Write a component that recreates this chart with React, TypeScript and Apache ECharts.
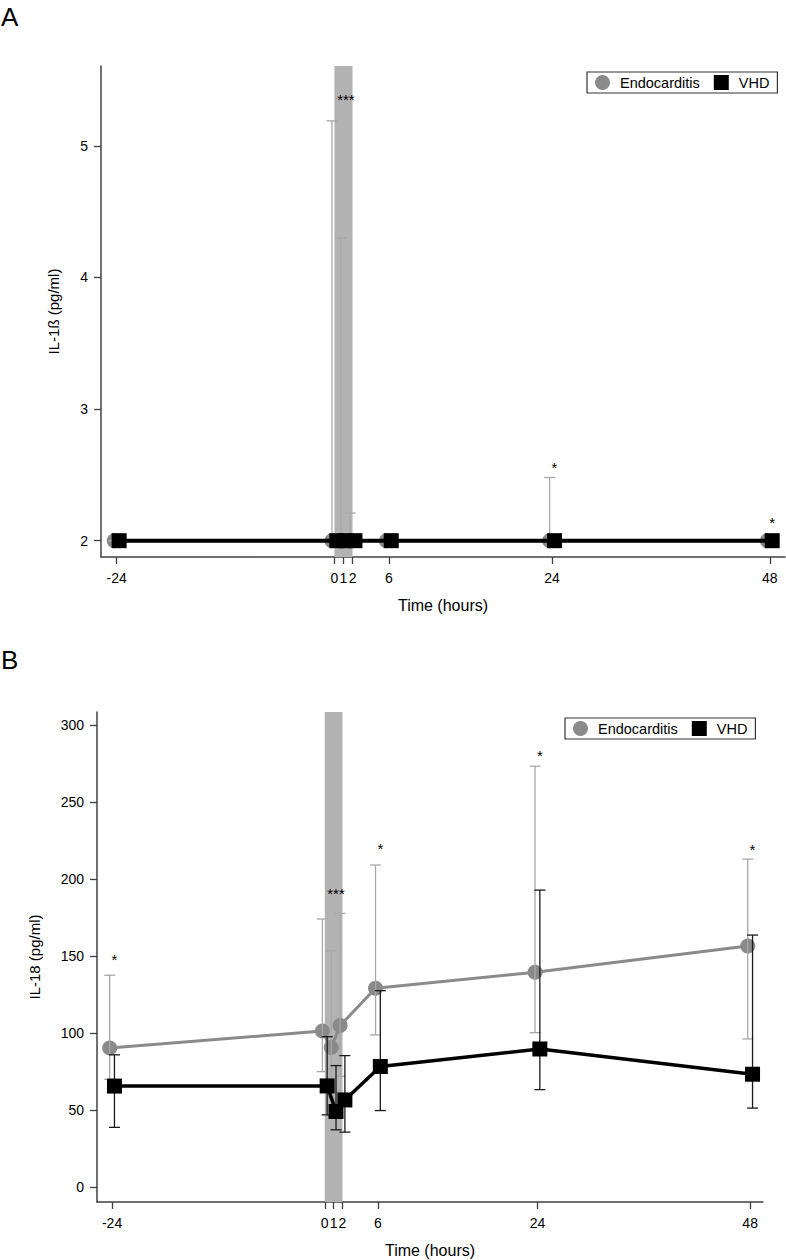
import React, { useEffect, useRef } from "react";
import * as echarts from "echarts";

// ---------- data ----------
const TIMES = [-24, 0, 1, 2, 6, 24, 48];
const X_TICKS = [-24, 0, 1, 2, 6, 24, 48];
const BAND = [0, 2];

// Panel A: IL-1ß
const A_ENDO_MEAN = [2, 2, 2, 2, 2, 2, 2];
const A_ENDO_LOW = [2, 2, 2, 2, 2, 2, 2];
const A_ENDO_HIGH = [2, 5.19, 4.3, 2.21, 2, 2.48, 2];
const A_VHD_MEAN = [2, 2, 2, 2, 2, 2, 2];
const A_VHD_LOW = [2, 2, 2, 2, 2, 2, 2];
const A_VHD_HIGH = [2, 2, 2, 2, 2, 2, 2];
const A_Y_TICKS = [2, 3, 4, 5];
const A_STAR_T = [1, 24, 48];
const A_STAR_Y = [5.38, 2.59, 2.17];
const A_STAR_LABEL = ["***", "*", "*"];

// Panel B: IL-18
const B_ENDO_MEAN = [90.3, 101.4, 90.6, 104.9, 129.1, 139.5, 156.6];
const B_ENDO_LOW = [70, 75, 61, 72, 98.8, 100.3, 96.2];
const B_ENDO_HIGH = [137.6, 174.1, 153.5, 177.8, 209.2, 273.4, 213.0];
const B_VHD_MEAN = [65.6, 65.7, 49.1, 56.6, 78.3, 89.7, 73.3];
const B_VHD_LOW = [38.8, 46.9, 37.2, 35.7, 49.7, 63.3, 51.3];
const B_VHD_HIGH = [85.9, 97.7, 78.9, 85.4, 127.6, 192.9, 163.7];
const B_Y_TICKS = [0, 50, 100, 150, 200, 250, 300];
const B_STAR_T = [-24, 1, 6, 24, 48];
const B_STAR_Y = [150.7, 193, 222.6, 283, 222];
const B_STAR_LABEL = ["*", "***", "*", "*", "*"];

// ---------- styles ----------
const FONT = "Liberation Sans, Arial, Helvetica, sans-serif";
const GREY = "#8a8a8a";
const GREY_BAR = "#a8a8a8";
const BLACK = "#000000";
const BLACK_BAR = "#1a1a1a";
const BAND_COLOR = "#b3b3b3";
const AXIS_COLOR = "#404040";
const DODGE = 0.27;

const A_X_MIN = -25.73, A_X_MAX = 49.68, A_Y_MIN = 1.876, A_Y_MAX = 5.607;
const B_X_MIN = -25.7, B_X_MAX = 49.45, B_Y_MIN = -9.7, B_Y_MAX = 308.6;

function xAxisOpt(grid: number, min: number, max: number) {
  return {
    type: "value",
    gridIndex: grid,
    min,
    max,
    name: "Time (hours)",
    nameLocation: "middle",
    nameGap: 40,
    nameTextStyle: { fontSize: 16, color: "#000", fontFamily: FONT },
    axisLine: { show: true, onZero: false, lineStyle: { color: AXIS_COLOR, width: 1.5 } },
    axisTick: { show: true, customValues: X_TICKS, length: 7, lineStyle: { color: AXIS_COLOR, width: 1.3 } },
    axisLabel: { customValues: X_TICKS, fontSize: 14, color: "#000", fontFamily: FONT, margin: 14 },
    splitLine: { show: false },
  };
}

function yAxisOpt(grid: number, min: number, max: number, ticks: number[], name: string, gap: number) {
  return {
    type: "value",
    gridIndex: grid,
    min,
    max,
    name,
    nameLocation: "middle",
    nameGap: gap,
    nameTextStyle: { fontSize: 15, color: "#000", fontFamily: FONT },
    axisLine: { show: true, onZero: false, lineStyle: { color: AXIS_COLOR, width: 1.5 } },
    axisTick: { show: true, customValues: ticks, length: 7, lineStyle: { color: AXIS_COLOR, width: 1.3 } },
    axisLabel: { customValues: ticks, fontSize: 14, color: "#000", fontFamily: FONT, margin: 13 },
    splitLine: { show: false },
  };
}

function bandSeries(grid: number, yMin: number) {
  return {
    type: "custom",
    xAxisIndex: grid,
    yAxisIndex: grid,
    z: 1,
    silent: true,
    data: [[BAND[0], BAND[1]]],
    renderItem: (params: any, api: any) => {
      const cs = params.coordSys;
      const x1 = api.coord([api.value(0), yMin])[0];
      const x2 = api.coord([api.value(1), yMin])[0];
      return {
        type: "rect",
        shape: { x: x1, y: cs.y, width: x2 - x1, height: cs.height },
        style: { fill: BAND_COLOR },
      };
    },
  };
}

function errorSeries(grid: number, name: string, low: number[], high: number[], offset: number, color: string, z: number) {
  return {
    type: "custom",
    name,
    xAxisIndex: grid,
    yAxisIndex: grid,
    z,
    silent: true,
    data: TIMES.map((t, i) => [t + offset, low[i], high[i]]),
    encode: { x: 0, y: [1, 2] },
    renderItem: (params: any, api: any) => {
      const x = api.value(0);
      const top = api.coord([x, api.value(2)]);
      const bot = api.coord([x, api.value(1)]);
      const hw = 5.5;
      const st = { stroke: color, lineWidth: 1.3 };
      return {
        type: "group",
        children: [
          { type: "line", shape: { x1: top[0], y1: top[1], x2: bot[0], y2: bot[1] }, style: st },
          { type: "line", shape: { x1: top[0] - hw, y1: top[1], x2: top[0] + hw, y2: top[1] }, style: st },
          { type: "line", shape: { x1: bot[0] - hw, y1: bot[1], x2: bot[0] + hw, y2: bot[1] }, style: st },
        ],
      };
    },
  };
}

function lineSeries(grid: number, name: string, mean: number[], offset: number, color: string, symbol: string, size: number, width: number, z: number) {
  return {
    type: "line",
    name,
    xAxisIndex: grid,
    yAxisIndex: grid,
    z,
    data: TIMES.map((t, i) => [t + offset, mean[i]]),
    symbol,
    symbolSize: size,
    showSymbol: true,
    itemStyle: { color },
    lineStyle: { color, width },
    silent: true,
  };
}

function starSeries(grid: number, ts: number[], ys: number[], labels: string[]) {
  return {
    type: "custom",
    xAxisIndex: grid,
    yAxisIndex: grid,
    z: 10,
    silent: true,
    data: ts.map((t, i) => [t, ys[i]]),
    renderItem: (params: any, api: any) => {
      const p = api.coord([api.value(0) + DODGE, api.value(1)]);
      return {
        type: "text",
        x: p[0],
        y: p[1] + 4,
        style: {
          text: labels[params.dataIndex],
          fontSize: 15,
          fontFamily: FONT,
          fill: "#000",
          align: "center",
          verticalAlign: "middle",
        },
      };
    },
  };
}

function legendOpt(left: number, top: number) {
  return {
    left,
    top,
    orient: "horizontal",
    selectedMode: false,
    borderColor: "#333",
    borderWidth: 1.2,
    padding: [3, 8, 3, 8],
    itemWidth: 15,
    itemHeight: 15,
    itemGap: 14,
    textStyle: { fontSize: 14.5, color: "#000", fontFamily: FONT, padding: [0, 0, 0, 5] },
    data: [
      { name: "Endocarditis", icon: "circle", itemStyle: { color: GREY } },
      { name: "VHD", icon: "rect", itemStyle: { color: BLACK } },
    ],
  };
}

export default function App() {
  const ref = useRef<HTMLDivElement>(null);
  useEffect(() => {
    if (!ref.current) return;
    const chart = echarts.init(ref.current, undefined, { renderer: "svg" });
    const option: any = {
      animation: false,
      backgroundColor: "#ffffff",
      textStyle: { fontFamily: FONT },
      grid: [
        { left: 101, top: 66, width: 684, height: 491 },
        { left: 97, top: 712, width: 666, height: 490 },
      ],
      xAxis: [xAxisOpt(0, A_X_MIN, A_X_MAX), xAxisOpt(1, B_X_MIN, B_X_MAX)],
      yAxis: [
        yAxisOpt(0, A_Y_MIN, A_Y_MAX, A_Y_TICKS, "IL-1ß (pg/ml)", 40),
        yAxisOpt(1, B_Y_MIN, B_Y_MAX, B_Y_TICKS, "IL-18 (pg/ml)", 55),
      ],
      legend: [legendOpt(587, 72), legendOpt(565, 718)],
      graphic: [
        { type: "text", left: 1, top: 4, style: { text: "A", fontSize: 26, fontFamily: FONT, fill: "#000" } },
        { type: "text", left: 1, top: 647, style: { text: "B", fontSize: 26, fontFamily: FONT, fill: "#000" } },
      ],
      series: [
        bandSeries(0, A_Y_MIN),
        lineSeries(0, "Endocarditis", A_ENDO_MEAN, -DODGE, GREY, "circle", 15, 3, 2),
        errorSeries(0, "Endocarditis", A_ENDO_LOW, A_ENDO_HIGH, -DODGE, GREY_BAR, 3),
        errorSeries(0, "VHD", A_VHD_LOW, A_VHD_HIGH, DODGE, BLACK_BAR, 4),
        lineSeries(0, "VHD", A_VHD_MEAN, DODGE, BLACK, "rect", 15, 4, 5),
        starSeries(0, A_STAR_T, A_STAR_Y, A_STAR_LABEL),

        bandSeries(1, B_Y_MIN),
        lineSeries(1, "Endocarditis", B_ENDO_MEAN, -DODGE, GREY, "circle", 15, 3, 2),
        errorSeries(1, "Endocarditis", B_ENDO_LOW, B_ENDO_HIGH, -DODGE, GREY_BAR, 3),
        errorSeries(1, "VHD", B_VHD_LOW, B_VHD_HIGH, DODGE, BLACK_BAR, 4),
        lineSeries(1, "VHD", B_VHD_MEAN, DODGE, BLACK, "rect", 15, 3.5, 5),
        starSeries(1, B_STAR_T, B_STAR_Y, B_STAR_LABEL),
      ],
    };
    chart.setOption(option);
    return () => chart.dispose();
  }, []);
  return (
    <div
      ref={ref}
      style={{ position: "absolute", left: 0, top: 0, width: 786, height: 1260 }}
    />
  );
}
